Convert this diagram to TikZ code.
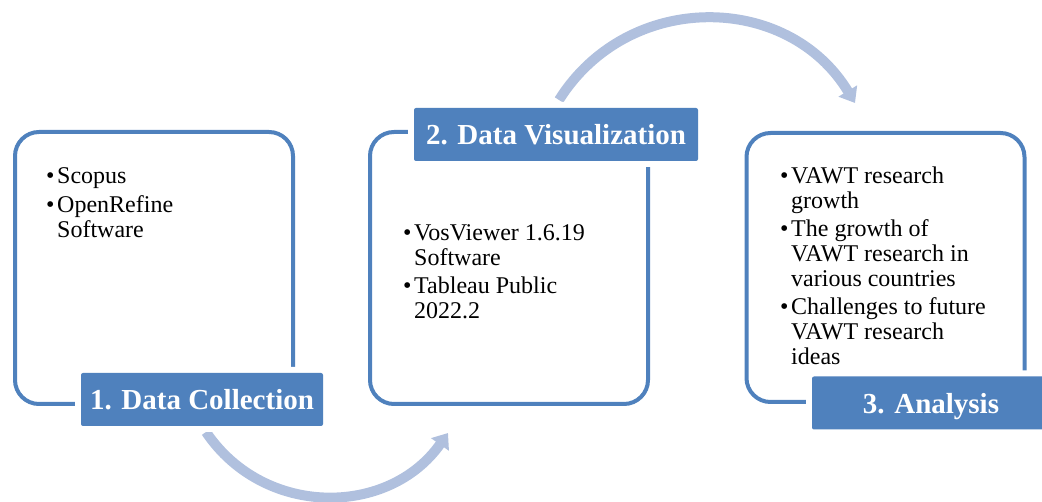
\documentclass[tikz,border=0pt]{standalone}
\usepackage{fontspec}
\setmainfont{Liberation Serif}
\usetikzlibrary{arrows.meta}
\definecolor{boxblue}{RGB}{79,129,189}
\definecolor{arrowblue}{RGB}{176,192,222}
\newcommand{\bul}{\makebox[11pt][l]{\textbullet}}
\newcommand{\hang}{\hspace*{11pt}}

\begin{document}
\begin{tikzpicture}[x=1pt,y=-1pt,
   box/.style={draw=boxblue,line width=4pt,rounded corners=24pt,
               minimum width=278pt,minimum height=272pt},
   tag/.style={fill=boxblue,rounded corners=2pt,minimum width=#1,minimum height=53pt,
               inner sep=0pt,text depth=0pt,text=white,
               font=\fontsize{29}{30}\selectfont\bfseries,
               preaction={draw=white,line width=12pt}},
   items/.style={anchor=north west,inner sep=0pt,align=left,
               font=\fontsize{24}{25}\selectfont},
   flow/.style={draw=arrowblue,line width=10pt,-{Triangle[width=21pt,length=14pt]}}]

\useasboundingbox (0,0) rectangle (1042,502);

\coordinate (c1s) at (206,432);
\coordinate (c1e) at (448,433);
\coordinate (c2s) at (559,100);
\coordinate (c2e) at (855,103);
\draw[flow] (c1s) .. controls +(58,86) and +(-59,84) .. (c1e);
\draw[flow] (c2s) .. controls +(69,-110) and +(-67,-111) .. (c2e);

\node[box] (box1) at (154,268) {};
\node[box] (box2) at (509,268) {};
\node[box,minimum height=269pt] (box3) at (885.5,267.5) {};

\node[tag=242pt] (lab1) at (202,399.5) {1. Data Collection};
\node[tag=284pt] (lab2) at (556,134.5) {2. Data Visualization};
\node[tag=238pt] (lab3) at (931,403) {3. Analysis};

\node[items] (txt1) at (46,167) {\bul Scopus\\[4pt]\bul OpenRefine\\\hang Software};
\node[items] (txt2) at (403,224) {\bul VosViewer 1.6.19\\\hang Software\\[3pt]
   \bul Tableau Public\\\hang 2022.2};
\node[items] (txt3) at (780,167) {\bul VAWT research\\\hang growth\\[3pt]
   \bul The growth of\\\hang VAWT research in\\\hang various countries\\[3pt]
   \bul Challenges to future\\\hang VAWT research\\\hang ideas};

\end{tikzpicture}
\end{document}
